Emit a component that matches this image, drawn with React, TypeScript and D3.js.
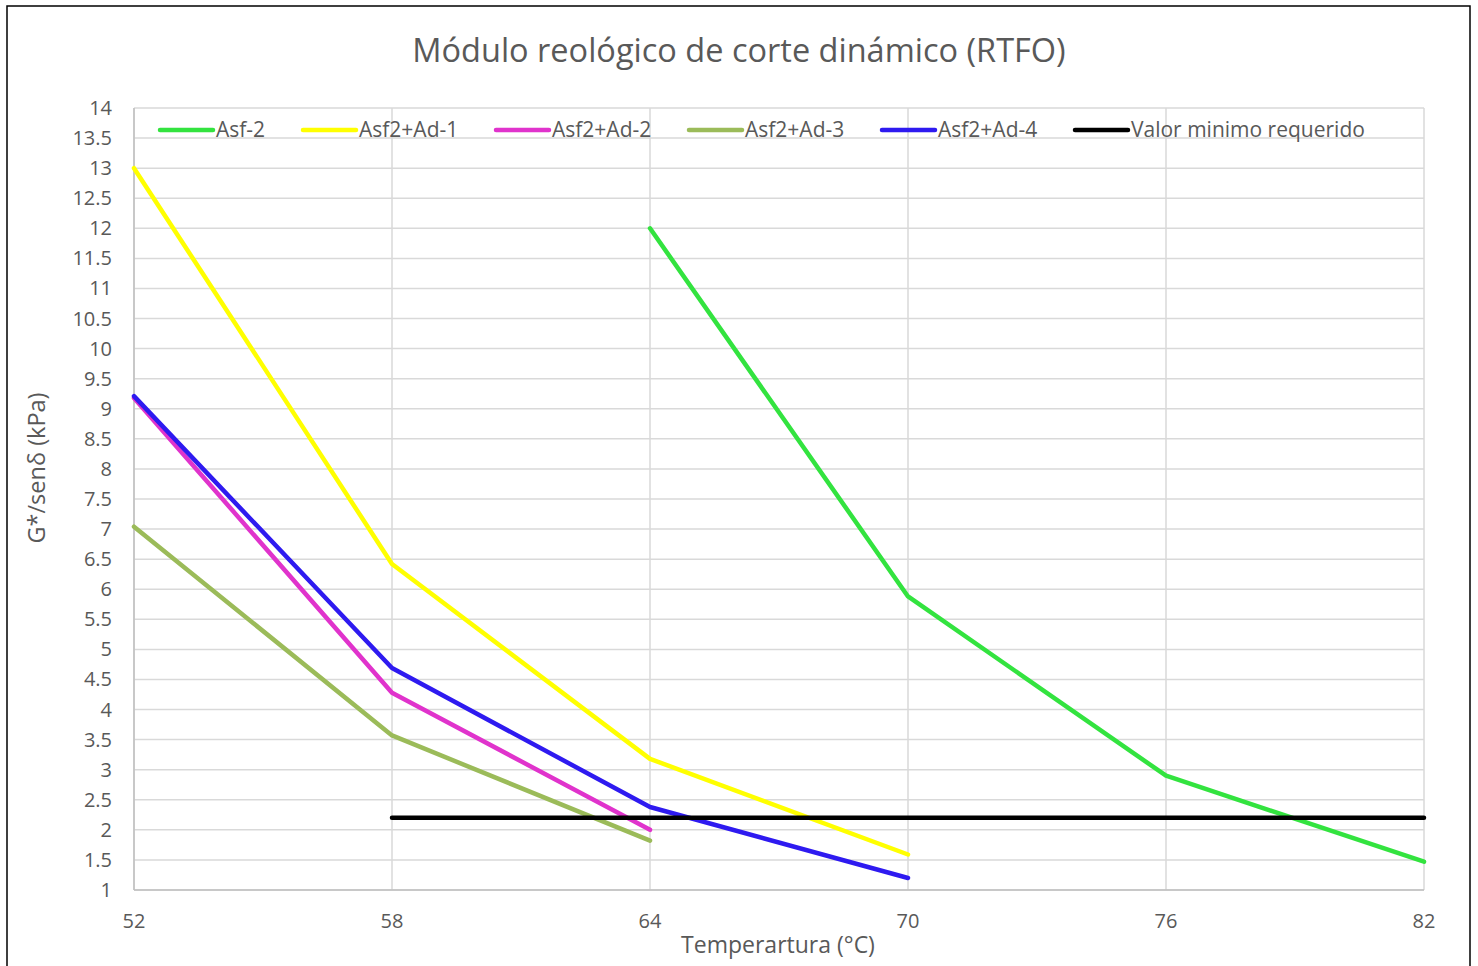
import React from "react";
import * as d3 from "d3";

const temps = [52, 58, 64, 70, 76, 82];
const yTicks = [1, 1.5, 2, 2.5, 3, 3.5, 4, 4.5, 5, 5.5, 6, 6.5, 7, 7.5, 8, 8.5, 9, 9.5, 10, 10.5, 11, 11.5, 12, 12.5, 13, 13.5, 14];

const asf2X = [64, 70, 76, 82];
const asf2Y = [12.0, 5.88, 2.9, 1.47];
const ad1X = [52, 58, 64, 70];
const ad1Y = [13.0, 6.42, 3.18, 1.59];
const ad2X = [52, 58, 64];
const ad2Y = [9.18, 4.28, 2.0];
const ad3X = [52, 58, 64];
const ad3Y = [7.04, 3.57, 1.82];
const ad4X = [52, 58, 64, 70];
const ad4Y = [9.21, 4.69, 2.38, 1.2];
const minX = [58, 64, 70, 76, 82];
const minY = [2.2, 2.2, 2.2, 2.2, 2.2];

const seriesNames = ["Asf-2", "Asf2+Ad-1", "Asf2+Ad-2", "Asf2+Ad-3", "Asf2+Ad-4", "Valor minimo requerido"];
const seriesColors = ["#33E33F", "#FFFF00", "#E033CC", "#9BBB59", "#2E1AF0", "#000000"];
const seriesX = [asf2X, ad1X, ad2X, ad3X, ad4X, minX];
const seriesY = [asf2Y, ad1Y, ad2Y, ad3Y, ad4Y, minY];
const legendX = [160, 303, 496, 689, 882, 1075];

const FONT = "'Open Sans', 'Noto Sans', sans-serif";

export default function App() {
  const left = 134, right = 1424, top = 108, bottom = 890;
  const x = d3.scaleLinear().domain([52, 82]).range([left, right]);
  const y = d3.scaleLinear().domain([1, 14]).range([bottom, top]);
  const line = d3.line<[number, number]>().x((d) => x(d[0])).y((d) => y(d[1]));

  return (
    <svg width={1478} height={966} style={{ position: "absolute", left: 0, top: 0, background: "#fff" }} fontFamily={FONT}>
      <rect x={0} y={0} width={1478} height={966} fill="#fff" />
      <rect x={7} y={6} width={1463} height={970} fill="none" stroke="#000" strokeWidth={1.5} />
      <text x={739} y={62} textAnchor="middle" fontSize={32.5} fill="#595959">Módulo reológico de corte dinámico (RTFO)</text>
      {yTicks.map((t) => (
        <line key={"gy" + t} x1={left} x2={right} y1={y(t)} y2={y(t)} stroke="#D9D9D9" strokeWidth={1.5} />
      ))}
      {temps.map((t) => (
        <line key={"gx" + t} x1={x(t)} x2={x(t)} y1={top} y2={bottom} stroke="#D9D9D9" strokeWidth={1.5} />
      ))}
      <line x1={left} x2={left} y1={top} y2={bottom} stroke="#BFBFBF" strokeWidth={1.5} />
      <line x1={left} x2={right} y1={bottom} y2={bottom} stroke="#BFBFBF" strokeWidth={1.5} />
      {yTicks.map((t) => (
        <text key={"ty" + t} x={112} y={y(t) + 7} textAnchor="end" fontSize={20} fill="#595959">{String(t)}</text>
      ))}
      {temps.map((t) => (
        <text key={"tx" + t} x={x(t)} y={928} textAnchor="middle" fontSize={20} fill="#595959">{String(t)}</text>
      ))}
      <text x={778} y={953} textAnchor="middle" fontSize={23} fill="#595959">Temperartura (°C)</text>
      <text transform={`translate(45,${468}) rotate(-90)`} textAnchor="middle" fontSize={23.5} fill="#595959">G*/senδ (kPa)</text>
      {seriesNames.map((n, i) => {
        const pts = seriesX[i].map((v, j) => [v, seriesY[i][j]] as [number, number]);
        return (
          <path key={"s" + n} d={line(pts) || ""} fill="none" stroke={seriesColors[i]} strokeWidth={4.5} strokeLinecap="round" strokeLinejoin="round" />
        );
      })}
      {seriesNames.map((n, i) => (
        <g key={"l" + n}>
          <line x1={legendX[i]} x2={legendX[i] + 53} y1={130} y2={130} stroke={seriesColors[i]} strokeWidth={4.5} strokeLinecap="round" />
          <text x={legendX[i] + 56} y={137} fontSize={21} fill="#595959">{n}</text>
        </g>
      ))}
    </svg>
  );
}
